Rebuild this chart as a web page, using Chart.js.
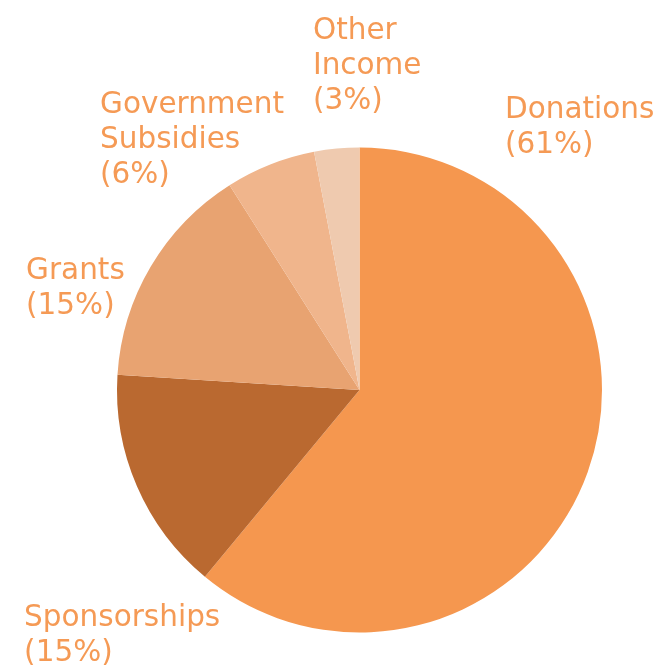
<!DOCTYPE html>
<html>
<head>
<meta charset="utf-8">
<script src="https://cdn.jsdelivr.net/npm/chart.js@4"></script>
<style>
html,body{margin:0;padding:0;background:#fff;}
#wrap{width:658px;height:666px;position:relative;}
</style>
</head>
<body>
<div id="wrap"><canvas id="c" width="658" height="666"></canvas></div>
<script>
const categories = ["Donations", "Sponsorships", "Grants", "Government Subsidies", "Other Income"];
const values = [61, 15, 15, 6, 3];
const labelLines = [["Donations"], ["Sponsorships"], ["Grants"], ["Government", "Subsidies"], ["Other", "Income"]];
const colors = ["#F5974F", "#BA6930", "#E8A371", "#F0B58C", "#EFCAAF"];

// label placement relative to pie centre, in units of radius (layout only)
const labelPlacement = [
  {x: 0.600, y: -1.122},
  {x: -1.383, y: 0.973},
  {x: -1.375, y: -0.458},
  {x: -1.070, y: -1.142},
  {x: -0.192, y: -1.447}
];

const labelPlugin = {
  id: 'pieLabels',
  afterDatasetsDraw(chart) {
    const ctx = chart.ctx;
    const meta = chart.getDatasetMeta(0);
    const total = values.reduce((a, b) => a + b, 0);
    ctx.save();
    ctx.fillStyle = '#F59A55';
    ctx.font = '400 29.5px "DejaVu Sans"';
    ctx.textAlign = 'left';
    ctx.textBaseline = 'alphabetic';
    const lh = 35;
    meta.data.forEach((arc, i) => {
      const r = arc.outerRadius;
      const x0 = arc.x + labelPlacement[i].x * r;
      const y0 = arc.y + labelPlacement[i].y * r;
      const pct = Math.round(values[i] / total * 100);
      const lines = labelLines[i].concat(["(" + pct + "%)"]);
      lines.forEach((t, k) => ctx.fillText(t, x0, y0 + k * lh));
    });
    ctx.restore();
  }
};

new Chart(document.getElementById('c'), {
  type: 'pie',
  data: {
    labels: categories,
    datasets: [{
      data: values,
      backgroundColor: colors,
      borderWidth: 0,
      hoverOffset: 0
    }]
  },
  options: {
    responsive: false,
    animation: false,
    layout: {padding: {left: 117, right: 56, top: 147, bottom: 33}},
    plugins: {legend: {display: false}, tooltip: {enabled: false}}
  },
  plugins: [labelPlugin]
});
</script>
</body>
</html>
